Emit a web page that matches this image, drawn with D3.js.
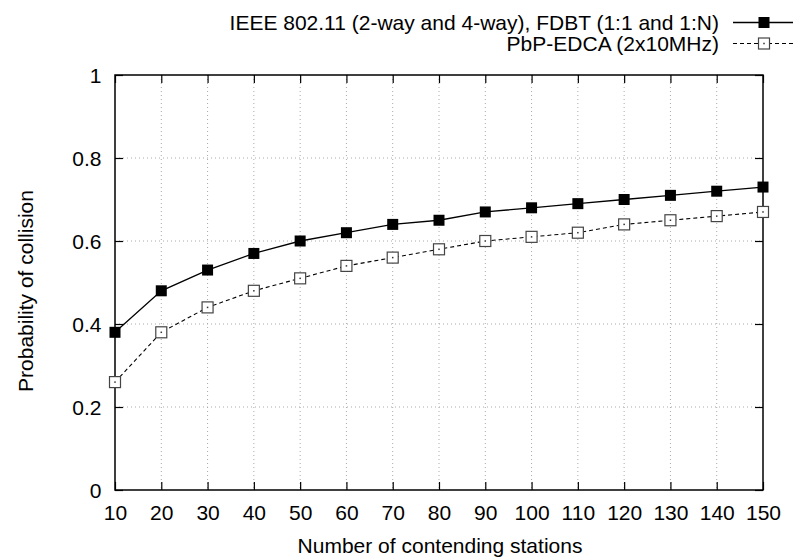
<!DOCTYPE html>
<html>
<head>
<meta charset="utf-8">
<script src="https://cdn.jsdelivr.net/npm/d3@7"></script>
<style>
  body { margin: 0; background: #fff; }
  svg text { font-family: "Liberation Sans", Arial, Helvetica, sans-serif; fill: #000; }
</style>
</head>
<body>
<svg id="chart" width="794" height="559"></svg>
<script>
// Number of contending stations
const stations = [10, 20, 30, 40, 50, 60, 70, 80, 90, 100, 110, 120, 130, 140, 150];
// Probability of collision per scheme
const ieeeFdbt = [0.38, 0.48, 0.53, 0.57, 0.60, 0.62, 0.64, 0.65, 0.67, 0.68, 0.69, 0.70, 0.71, 0.72, 0.73];
const pbpEdca  = [0.26, 0.38, 0.44, 0.48, 0.51, 0.54, 0.56, 0.58, 0.60, 0.61, 0.62, 0.64, 0.65, 0.66, 0.67];
const yTicks = [0, 0.2, 0.4, 0.6, 0.8, 1];
const seriesNames = ["IEEE 802.11 (2-way and 4-way), FDBT (1:1 and 1:N)", "PbP-EDCA (2x10MHz)"];

const fontSize = 21;
const svg = d3.select("#chart");
const m = { left: 115, right: 763, top: 75, bottom: 490 };

const x = d3.scaleLinear().domain([10, 150]).range([m.left, m.right]);
const y = d3.scaleLinear().domain([0, 1]).range([m.bottom, m.top]);

// dotted grid
const grid = svg.append("g");
stations.slice(1, -1).forEach(v => {
  grid.append("line").attr("x1", x(v)).attr("x2", x(v)).attr("y1", m.top).attr("y2", m.bottom)
    .attr("stroke", "#aaa").attr("stroke-width", 1).attr("stroke-dasharray", "1,3");
});
yTicks.slice(1, -1).forEach(v => {
  grid.append("line").attr("x1", m.left).attr("x2", m.right).attr("y1", y(v)).attr("y2", y(v))
    .attr("stroke", "#aaa").attr("stroke-width", 1).attr("stroke-dasharray", "1,3");
});

// axes with inward ticks, mirrored on top and right
const tickLen = 8;
const xAxis = d3.axisBottom(x).tickValues(stations).tickSize(-tickLen).tickFormat(d3.format("d"));
const yAxis = d3.axisLeft(y).tickValues(yTicks).tickSize(-tickLen).tickFormat(d => d === 0 || d === 1 ? d3.format("d")(d) : d3.format(".1f")(d));
const gx = svg.append("g").attr("transform", `translate(0,${m.bottom})`).call(xAxis);
const gy = svg.append("g").attr("transform", `translate(${m.left},0)`).call(yAxis);
const gxTop = svg.append("g").attr("transform", `translate(0,${m.top})`).call(d3.axisTop(x).tickValues(stations).tickSize(-tickLen).tickFormat(""));
const gyRight = svg.append("g").attr("transform", `translate(${m.right},0)`).call(d3.axisRight(y).tickValues(yTicks).tickSize(-tickLen).tickFormat(""));
[gx, gy, gxTop, gyRight].forEach(g => {
  g.select(".domain").remove();
  g.selectAll(".tick line").attr("stroke", "#000").attr("stroke-width", 1.2);
  g.selectAll("text").attr("font-size", fontSize).attr("fill", "#000");
});
gx.selectAll(".tick text").attr("y", 30).attr("dy", 0);
gy.selectAll(".tick text").attr("x", -13.5).attr("dy", "0.35em");

// frame
svg.append("rect").attr("x", m.left).attr("y", m.top).attr("width", m.right - m.left).attr("height", m.bottom - m.top)
  .attr("fill", "none").attr("stroke", "#000").attr("stroke-width", 1.5);

// axis titles
svg.append("text").attr("x", (m.left + m.right) / 2 + 1).attr("y", 553).attr("text-anchor", "middle")
  .attr("font-size", fontSize).text("Number of contending stations");
svg.append("text").attr("transform", `translate(33,291) rotate(-90)`).attr("text-anchor", "middle")
  .attr("font-size", fontSize).text("Probability of collision");

const line = d3.line().x((d, i) => x(stations[i])).y(d => y(d));
const ms = 11;

function drawMarkerFilled(g, cx, cy) {
  g.append("rect").attr("x", cx - ms / 2).attr("y", cy - ms / 2).attr("width", ms).attr("height", ms).attr("fill", "#000");
}
function drawMarkerOpen(g, cx, cy) {
  g.append("rect").attr("x", cx - ms / 2).attr("y", cy - ms / 2).attr("width", ms).attr("height", ms)
    .attr("fill", "#fff").attr("stroke", "#444").attr("stroke-width", 1.2);
  g.append("rect").attr("x", cx - 0.75).attr("y", cy - 0.75).attr("width", 1.5).attr("height", 1.5).attr("fill", "#333");
}

// series 1: solid with filled squares
const s1 = svg.append("g");
s1.append("path").datum(ieeeFdbt).attr("d", line).attr("fill", "none").attr("stroke", "#000").attr("stroke-width", 1.3);
ieeeFdbt.forEach((v, i) => drawMarkerFilled(s1, x(stations[i]), y(v)));

// series 2: dashed with open squares
const s2 = svg.append("g");
s2.append("path").datum(pbpEdca).attr("d", line).attr("fill", "none").attr("stroke", "#000").attr("stroke-width", 1.1).attr("stroke-dasharray", "4,3");
pbpEdca.forEach((v, i) => drawMarkerOpen(s2, x(stations[i]), y(v)));

// legend
const lg = svg.append("g");
const rowY = [22.5, 43.5];
lg.append("text").attr("x", 719).attr("y", rowY[0] + 7.5).attr("text-anchor", "end").attr("font-size", fontSize).text(seriesNames[0]);
lg.append("line").attr("x1", 733).attr("x2", 793).attr("y1", rowY[0]).attr("y2", rowY[0]).attr("stroke", "#000").attr("stroke-width", 1.3);
drawMarkerFilled(lg, 764, rowY[0]);
lg.append("text").attr("x", 719).attr("y", rowY[1] + 7.5).attr("text-anchor", "end").attr("font-size", fontSize).text(seriesNames[1]);
lg.append("line").attr("x1", 733).attr("x2", 793).attr("y1", rowY[1]).attr("y2", rowY[1]).attr("stroke", "#000").attr("stroke-width", 1.1).attr("stroke-dasharray", "4,3");
drawMarkerOpen(lg, 764, rowY[1]);
</script>
</body>
</html>
